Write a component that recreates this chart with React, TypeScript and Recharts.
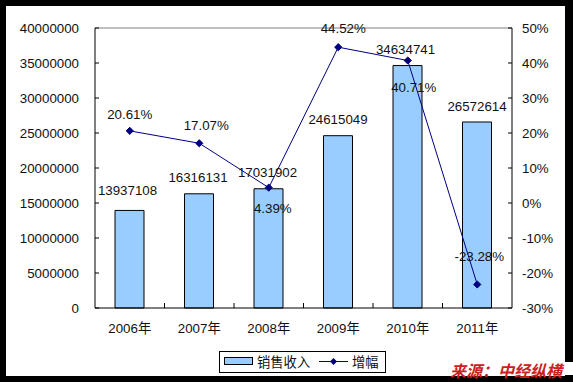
import React from 'react';
import { ComposedChart, Bar, Line, XAxis, YAxis, ReferenceLine, LabelList } from 'recharts';

const years = ['2006年', '2007年', '2008年', '2009年', '2010年', '2011年'];
const sales = [13937108, 16316131, 17031902, 24615049, 34634741, 26572614];
const growth = [20.61, 17.07, 4.39, 44.52, 40.71, -23.28];
const leftTicks = [0, 5000000, 10000000, 15000000, 20000000, 25000000, 30000000, 35000000, 40000000];
const rightTicks = [-30, -20, -10, 0, 10, 20, 30, 40, 50];
const seriesNames = ['销售收入', '增幅'];
const sourceText = '来源：中经纵横';

const data = years.map((y, i) => ({ year: y, sales: sales[i], growth: growth[i] }));

const FONT = "'Liberation Sans', Arial, 'Noto Sans CJK SC', sans-serif";
const TXT = '#111';
const NAVY = '#000080';
const BAR_FILL = '#99ccff';

const lineLabelOffsets = [
  [0, -16], [7, -18], [4, 21], [5, -19], [6, 27], [2, -28],
];
const barLabelOffsets = [
  [-2, -20], [-1, -16], [-1, -16], [0, -16], [-2, -16], [0, -15],
];

const LeftTick = (props: any) => {
  const { x, y, payload } = props;
  return (
    <g>
      <line x1={x} x2={x + 4} y1={y} y2={y} stroke="#000" />
      <text x={x - 16} y={y} textAnchor="end" dominantBaseline="central" fontSize={13.3} fill={TXT} fontFamily={FONT}>
        {payload.value}
      </text>
    </g>
  );
};

const RightTick = (props: any) => {
  const { x, y, payload } = props;
  return (
    <g>
      <line x1={x - 4} x2={x} y1={y} y2={y} stroke="#000" />
      <text x={x + 10} y={y} textAnchor="start" dominantBaseline="central" fontSize={13.3} fill={TXT} fontFamily={FONT}>
        {payload.value + '%'}
      </text>
    </g>
  );
};

const BottomTick = (props: any) => {
  const { x, y, payload, index } = props;
  const half = 69.5 / 2;
  return (
    <g>
      {index < years.length - 1 && (
        <line x1={x + half} x2={x + half} y1={y - 5} y2={y} stroke="#000" />
      )}
      <text x={x} y={y + 20} textAnchor="middle" dominantBaseline="central" fontSize={13.3} fill={TXT} fontFamily={FONT}>
        {payload.value}
      </text>
    </g>
  );
};

const Diamond = (props: any) => {
  const { cx, cy } = props;
  if (cx == null || cy == null) return null;
  const r = 3.6;
  return (
    <polygon
      points={`${cx},${cy - r} ${cx + r},${cy} ${cx},${cy + r} ${cx - r},${cy}`}
      fill={NAVY}
      stroke={NAVY}
    />
  );
};

const LineLabel = (props: any) => {
  const { x, y, index, value } = props;
  const [dx, dy] = lineLabelOffsets[index] || [0, -16];
  return (
    <text x={x + dx} y={y + dy} textAnchor="middle" dominantBaseline="central" fontSize={13.3} fill={TXT} fontFamily={FONT}>
      {value.toFixed(2) + '%'}
    </text>
  );
};

const BarLabel = (props: any) => {
  const { x, y, width, index, value } = props;
  const [dx, dy] = barLabelOffsets[index] || [0, -16];
  return (
    <text x={x + width / 2 + dx} y={y + dy} textAnchor="middle" dominantBaseline="central" fontSize={13.3} fill={TXT} fontFamily={FONT}>
      {value}
    </text>
  );
};

export default function App() {
  return (
    <div style={{ position: 'absolute', left: 0, top: 0, width: 573, height: 382, background: '#000' }}>
      <div style={{ position: 'absolute', left: 6, top: 6, width: 559, height: 370, background: '#fff' }} />
      <div style={{ position: 'absolute', left: 0, top: 0 }}>
        <ComposedChart
          width={573}
          height={382}
          data={data}
          margin={{ top: 28, right: 0, bottom: 0, left: 0 }}
          style={{ fontFamily: FONT }}
        >
          <XAxis
            dataKey="year"
            height={74}
            tickLine={false}
            tickSize={0}
            tickMargin={0}
            axisLine={{ stroke: '#000' }}
            tick={<BottomTick />}
            interval={0}
          />
          <YAxis
            yAxisId="left"
            orientation="left"
            width={95}
            domain={[0, 40000000]}
            ticks={leftTicks}
            tickLine={false}
            tickSize={0}
            tickMargin={0}
            axisLine={{ stroke: '#000' }}
            tick={<LeftTick />}
            interval={0}
          />
          <YAxis
            yAxisId="right"
            orientation="right"
            width={61}
            domain={[-30, 50]}
            ticks={rightTicks}
            tickLine={false}
            tickSize={0}
            tickMargin={0}
            axisLine={{ stroke: '#000' }}
            tick={<RightTick />}
            interval={0}
          />
          <ReferenceLine yAxisId="left" y={40000000} stroke="#808080" />
          <Bar
            yAxisId="left"
            dataKey="sales"
            name={seriesNames[0]}
            fill={BAR_FILL}
            stroke="#000"
            strokeWidth={1}
            barSize={29}
            isAnimationActive={false}
          >
            <LabelList dataKey="sales" content={<BarLabel />} />
          </Bar>
          <Line
            yAxisId="right"
            dataKey="growth"
            name={seriesNames[1]}
            stroke={NAVY}
            strokeWidth={1}
            dot={<Diamond />}
            activeDot={false}
            isAnimationActive={false}
            type="linear"
          >
            <LabelList dataKey="growth" content={<LineLabel />} />
          </Line>
        </ComposedChart>
      </div>
      <svg width={573} height={382} style={{ position: 'absolute', left: 0, top: 0, pointerEvents: 'none' }}>
        <rect x={219.5} y={351.5} width={166} height={21} fill="#fff" stroke="#000" strokeWidth={1} />
        <rect x={224.5} y={357.5} width={28} height={7} fill={BAR_FILL} stroke="#000" strokeWidth={1} />
        <text x={257} y={362} fontSize={13.3} fill={TXT} fontFamily={FONT} dominantBaseline="central">{seriesNames[0]}</text>
        <line x1={319} x2={348} y1={361.5} y2={361.5} stroke={NAVY} strokeWidth={1} />
        <polygon points="333.5,358 337,361.5 333.5,365 330,361.5" fill={NAVY} />
        <text x={352} y={362} fontSize={13.3} fill={TXT} fontFamily={FONT} dominantBaseline="central">{seriesNames[1]}</text>
        <rect x={445} y={362} width={128} height={13} fill="#fff" />
        <text
          x={450}
          y={369.5}
          fontSize={16}
          fontWeight="bold"
          fontStyle="italic"
          fill="#cc2020"
          fontFamily="'Noto Sans CJK SC', sans-serif"
          dominantBaseline="central"
        >
          {sourceText}
        </text>
      </svg>
    </div>
  );
}
